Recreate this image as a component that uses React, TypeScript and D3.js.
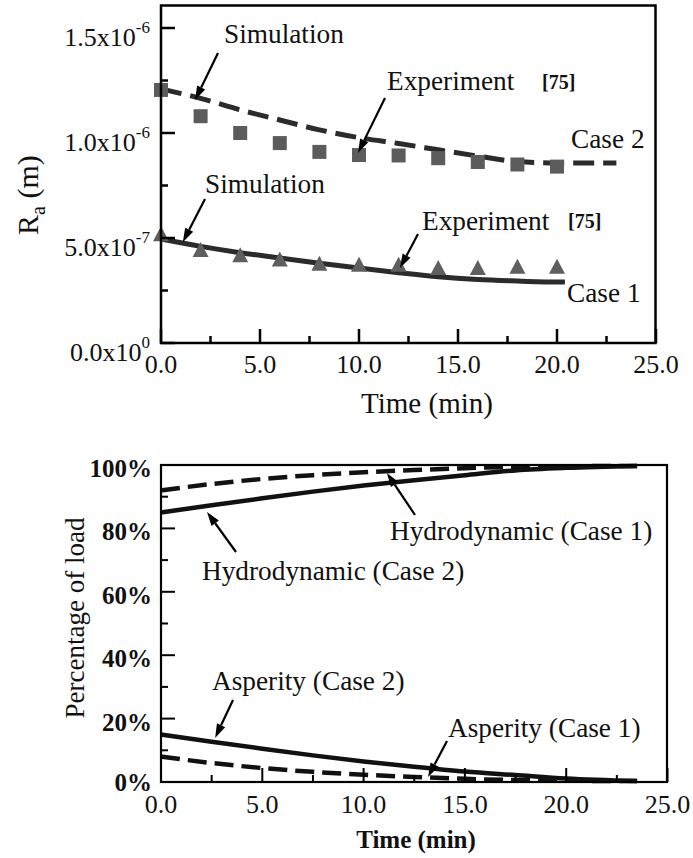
import React from "react";
import * as d3 from "d3";

// ---- Surface roughness Ra over time (top panel) ----
const sampleTimes = [0, 2, 4, 6, 8, 10, 12, 14, 16, 18, 20];
const case2Experiment = [1.205e-6, 1.08e-6, 1.0e-6, 0.952e-6, 0.91e-6, 0.895e-6, 0.893e-6, 0.88e-6, 0.862e-6, 0.85e-6, 0.84e-6];
const case1Experiment = [0.52e-6, 0.445e-6, 0.42e-6, 0.4e-6, 0.38e-6, 0.375e-6, 0.375e-6, 0.36e-6, 0.36e-6, 0.365e-6, 0.365e-6];

const case2SimTimes = [0, 2, 4, 6, 8, 10, 12, 14, 16, 18, 20, 23];
const case2Simulation = [1.21e-6, 1.165e-6, 1.11e-6, 1.062e-6, 1.015e-6, 0.978e-6, 0.95e-6, 0.92e-6, 0.89e-6, 0.864e-6, 0.857e-6, 0.857e-6];
const case1SimTimes = [0, 2, 4, 6, 8, 10, 12, 14, 16, 18, 20, 20.4];
const case1Simulation = [0.495e-6, 0.46e-6, 0.43e-6, 0.405e-6, 0.38e-6, 0.357e-6, 0.335e-6, 0.315e-6, 0.302e-6, 0.295e-6, 0.29e-6, 0.29e-6];

const raTickValues = [0, 0.5e-6, 1.0e-6, 1.5e-6];
const raTickMantissas = ["0.0", "5.0", "1.0", "1.5"];
const raTickExponents = ["0", "-7", "-6", "-6"];
const raMinorTicks = [0.25e-6, 0.75e-6, 1.25e-6];

// ---- Load share over time (bottom panel) ----
const loadTimes = [0, 2.5, 5, 7.5, 10, 12.5, 15, 17.5, 20, 23.5];
const hydroCase1 = [92, 94, 95.6, 96.8, 97.7, 98.4, 99, 99.4, 99.6, 99.7];
const hydroCase2 = [85, 87.3, 89.5, 91.6, 93.5, 95.2, 96.8, 98.3, 99.1, 99.7];
const asperityCase2 = [15, 12.7, 10.5, 8.4, 6.5, 4.8, 3.3, 2.2, 1.1, 0.3];
const asperityCase1 = [8, 6, 4.4, 3.2, 2.3, 1.6, 1.0, 0.6, 0.4, 0.3];

const loadTicks = [0, 20, 40, 60, 80, 100];
const loadMinorTicks = [10, 30, 50, 70, 90];

const timeTicks = [0, 5, 10, 15, 20, 25];
const timeMinorTicks = [2.5, 7.5, 12.5, 17.5, 22.5];

const FONT = "'Liberation Serif', 'Times New Roman', serif";
const NOTE = 27.3;

type Pt = [number, number];

function Arrow({ from, to }: { from: Pt; to: Pt }) {
  const [x0, y0] = from;
  const [x1, y1] = to;
  const ang = Math.atan2(y1 - y0, x1 - x0);
  const len = 14;
  const half = 4.5;
  const bx = x1 - len * Math.cos(ang);
  const by = y1 - len * Math.sin(ang);
  const px = -Math.sin(ang) * half;
  const py = Math.cos(ang) * half;
  return (
    <g>
      <line x1={x0} y1={y0} x2={bx} y2={by} stroke="#000" strokeWidth={2.2} />
      <path d={`M${x1},${y1}L${bx + px},${by + py}L${bx - px},${by - py}Z`} fill="#000" />
    </g>
  );
}

export default function App() {
  // Top panel scales
  const x1 = d3.scaleLinear().domain([0, 25]).range([161, 656]);
  const y1 = d3.scaleLinear().domain([0, 1.6e-6]).range([343, 7]);
  const top = { left: 161, right: 655.5, top: 5.5, bottom: 343 };

  // Bottom panel scales
  const x2 = d3.scaleLinear().domain([0, 25]).range([161, 667.5]);
  const y2 = d3.scaleLinear().domain([0, 100]).range([782, 465]);
  const bot = { left: 161, right: 667, top: 465, bottom: 782 };

  const line1 = d3
    .line<[number, number]>()
    .x((d) => x1(d[0]))
    .y((d) => y1(d[1]))
    .curve(d3.curveMonotoneX);
  const line2 = d3
    .line<[number, number]>()
    .x((d) => x2(d[0]))
    .y((d) => y2(d[1]))
    .curve(d3.curveMonotoneX);

  const zip = (a: number[], b: number[]) => a.map((t, i) => [t, b[i]] as [number, number]);

  const triPath = (cx: number, cy: number) => {
    const w = 8, h = 15;
    return `M${cx},${cy - h / 2}L${cx + w},${cy + h / 2}L${cx - w},${cy + h / 2}Z`;
  };

  return (
    <svg
      width={693}
      height={858}
      style={{ position: "absolute", left: 0, top: 0, background: "#fff", fontFamily: FONT }}
      fontFamily={FONT}
    >
      <rect x={0} y={0} width={693} height={858} fill="#fff" />

      {/* ===== Top panel ===== */}
      <g>
        {/* simulated curves */}
        <path
          d={line1(zip(case2SimTimes, case2Simulation)) || ""}
          fill="none"
          stroke="#2b2b2b"
          strokeWidth={5}
          strokeDasharray="21 9"
        />
        <path
          d={line1(zip(case1SimTimes, case1Simulation)) || ""}
          fill="none"
          stroke="#2b2b2b"
          strokeWidth={5}
        />
        {/* measured points */}
        {sampleTimes.map((t, i) => (
          <rect
            key={"sq" + i}
            x={x1(t) - 7}
            y={y1(case2Experiment[i]) - 7}
            width={14}
            height={14}
            fill="#5c5c5c"
          />
        ))}
        {sampleTimes.map((t, i) => (
          <path key={"tr" + i} d={triPath(x1(t), y1(case1Experiment[i]))} fill="#5f5f5f" />
        ))}

        {/* frame */}
        <rect
          x={top.left}
          y={top.top}
          width={top.right - top.left}
          height={top.bottom - top.top}
          fill="none"
          stroke="#000"
          strokeWidth={2.5}
        />
        {/* y ticks */}
        {raTickValues.map((v, i) => (
          <line key={"ytm" + i} x1={top.left} x2={top.left + 14} y1={y1(v)} y2={y1(v)} stroke="#000" strokeWidth={2.5} />
        ))}
        {raMinorTicks.map((v, i) => (
          <line key={"ytn" + i} x1={top.left} x2={top.left + 7} y1={y1(v)} y2={y1(v)} stroke="#000" strokeWidth={2.5} />
        ))}
        {raTickValues.map((v, i) => (
          <text key={"ytl" + i} x={150} y={y1(v) + 18} textAnchor="end" fontSize={26} fill="#111">
            {raTickMantissas[i]}x10
            <tspan dy={-13} fontSize={17}>
              {raTickExponents[i]}
            </tspan>
          </text>
        ))}
        {/* x ticks */}
        {timeTicks.map((t, i) => (
          <line key={"xtm" + i} x1={x1(t)} x2={x1(t)} y1={top.bottom} y2={top.bottom - 14} stroke="#000" strokeWidth={2.5} />
        ))}
        {timeMinorTicks.map((t, i) => (
          <line key={"xtn" + i} x1={x1(t)} x2={x1(t)} y1={top.bottom} y2={top.bottom - 7} stroke="#000" strokeWidth={2.5} />
        ))}
        {timeTicks.map((t, i) => (
          <text key={"xtl" + i} x={x1(t)} y={373} textAnchor="middle" fontSize={26} fill="#111">
            {t.toFixed(1)}
          </text>
        ))}
        <text x={427} y={413} textAnchor="middle" fontSize={29} fill="#111">
          Time (min)
        </text>
        <text transform="translate(38,235) rotate(-90)" fontSize={30} fill="#111">
          R<tspan dy={7} fontSize={20}>a</tspan>
          <tspan dy={-7}> (m)</tspan>
        </text>

        {/* annotations */}
        <text x={224} y={43} fontSize={NOTE} fill="#111">Simulation</text>
        <Arrow from={[218, 53]} to={[x1(1.72), y1(1.157e-6)]} />
        <text x={387} y={90} fontSize={NOTE} fill="#111">Experiment</text>
        <text x={542} y={89} fontSize={20} fontWeight="bold" fill="#111">[75]</text>
        <Arrow from={[385, 98]} to={[x1(9.95), y1(0.905e-6)]} />
        <text x={571} y={148} fontSize={NOTE} fill="#111">Case 2</text>

        <text x={205} y={193} fontSize={NOTE} fill="#111">Simulation</text>
        <Arrow from={[205, 199]} to={[x1(1.1), y1(0.48e-6)]} />
        <text x={422} y={230} fontSize={NOTE} fill="#111">Experiment</text>
        <text x={568} y={228} fontSize={20} fontWeight="bold" fill="#111">[75]</text>
        <Arrow from={[418, 234]} to={[x1(12.07), y1(0.357e-6)]} />
        <text x={567} y={302} fontSize={NOTE} fill="#111">Case 1</text>
      </g>

      {/* ===== Bottom panel ===== */}
      <g>
        <path d={line2(zip(loadTimes, hydroCase1)) || ""} fill="none" stroke="#111" strokeWidth={4.5} strokeDasharray="19 8" />
        <path d={line2(zip(loadTimes, hydroCase2)) || ""} fill="none" stroke="#111" strokeWidth={4.5} />
        <path d={line2(zip(loadTimes, asperityCase2)) || ""} fill="none" stroke="#111" strokeWidth={4.5} />
        <path d={line2(zip(loadTimes, asperityCase1)) || ""} fill="none" stroke="#111" strokeWidth={4.5} strokeDasharray="19 8" />

        <rect
          x={bot.left}
          y={bot.top}
          width={bot.right - bot.left}
          height={bot.bottom - bot.top}
          fill="none"
          stroke="#000"
          strokeWidth={2.2}
        />
        {loadTicks.map((v, i) => (
          <line key={"bym" + i} x1={bot.left} x2={bot.left + 14} y1={y2(v)} y2={y2(v)} stroke="#000" strokeWidth={2} />
        ))}
        {loadMinorTicks.map((v, i) => (
          <line key={"byn" + i} x1={bot.left} x2={bot.left + 7} y1={y2(v)} y2={y2(v)} stroke="#000" strokeWidth={2} />
        ))}
        {loadTicks.map((v, i) => (
          <text key={"byl" + i} x={152} y={y2(v) + (v === 0 ? 9 : 12)} textAnchor="end" fontSize={25} fontWeight="bold" fill="#111">
            {v}%
          </text>
        ))}
        {timeTicks.map((t, i) => (
          <line key={"bxm" + i} x1={x2(t)} x2={x2(t)} y1={bot.bottom} y2={bot.bottom - 14} stroke="#000" strokeWidth={2} />
        ))}
        {timeMinorTicks.map((t, i) => (
          <line key={"bxn" + i} x1={x2(t)} x2={x2(t)} y1={bot.bottom} y2={bot.bottom - 7} stroke="#000" strokeWidth={2} />
        ))}
        {timeTicks.map((t, i) => (
          <text key={"bxl" + i} x={x2(t)} y={813} textAnchor="middle" fontSize={26} fill="#111">
            {t.toFixed(1)}
          </text>
        ))}
        <text x={416} y={848} textAnchor="middle" fontSize={25} fontWeight="bold" fill="#111">
          Time (min)
        </text>
        <text transform="translate(84,618) rotate(-90)" textAnchor="middle" fontSize={27} fill="#111">
          Percentage of load
        </text>

        {/* annotations */}
        <text x={390} y={540} fontSize={NOTE} fill="#111">Hydrodynamic (Case 1)</text>
        <Arrow from={[415, 515]} to={[x2(11.15), y2(97.5)]} />
        <text x={202} y={580} fontSize={NOTE} fill="#111">Hydrodynamic (Case 2)</text>
        <Arrow from={[236, 552]} to={[x2(2.27), y2(85.2)]} />
        <text x={212} y={690} fontSize={NOTE} fill="#111">Asperity (Case 2)</text>
        <Arrow from={[233, 700]} to={[x2(2.67), y2(13.9)]} />
        <text x={448} y={737} fontSize={NOTE} fill="#111">Asperity (Case 1)</text>
        <Arrow from={[447, 741]} to={[x2(13.18), y2(1.6)]} />
      </g>
    </svg>
  );
}
